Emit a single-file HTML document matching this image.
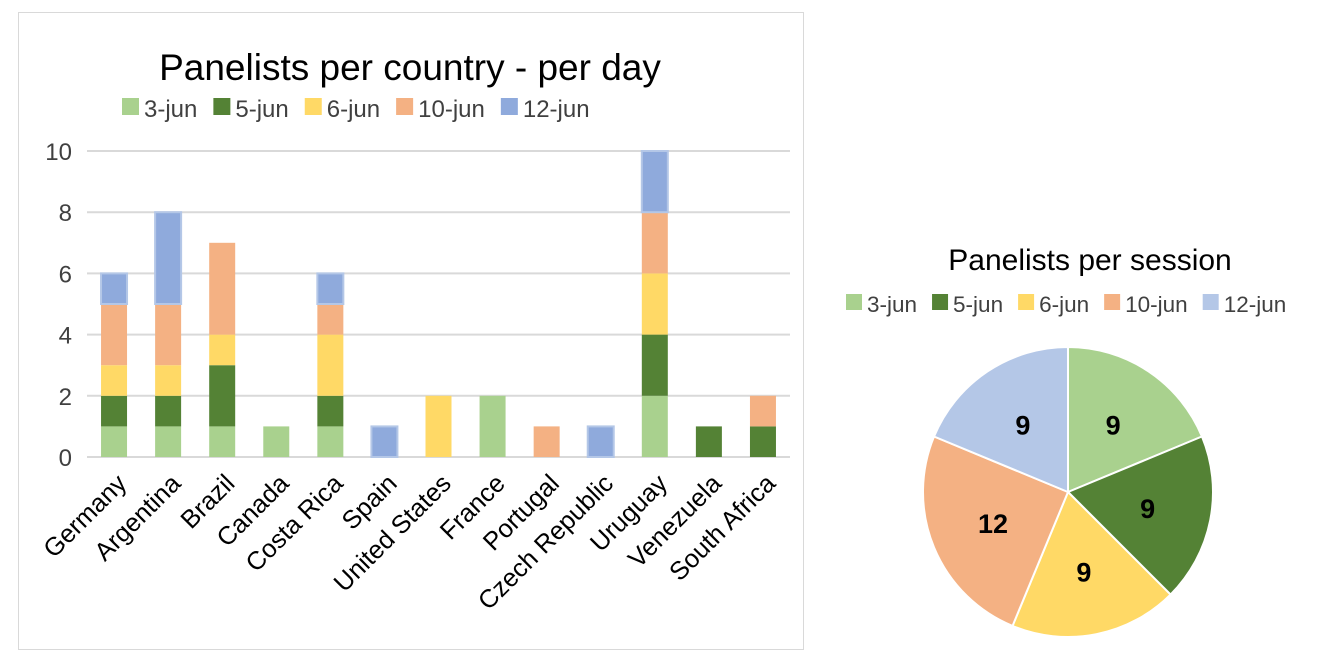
<!DOCTYPE html>
<html><head><meta charset="utf-8"><style>
body{margin:0;background:#fff;width:1335px;height:661px;overflow:hidden;font-family:"Liberation Sans",sans-serif}
svg text{font-family:"Liberation Sans",sans-serif}
</style></head><body>
<svg id="c" width="1335" height="661" xmlns="http://www.w3.org/2000/svg">
<rect x="18.5" y="12.5" width="785" height="637" fill="#fff" stroke="#d9d9d9"/>
<text x="410" y="80" font-size="37" text-anchor="middle" fill="#000">Panelists per country - per day</text>
<text x="1090" y="270" font-size="30" text-anchor="middle" fill="#000">Panelists per session</text>
<g id="bars"></g>
<g id="pie"></g>
</svg>
<script>
const categories=["Germany","Argentina","Brazil","Canada","Costa Rica","Spain","United States","France","Portugal","Czech Republic","Uruguay","Venezuela","South Africa"];
const seriesNames=["3-jun","5-jun","6-jun","10-jun","12-jun"];
const s3jun=[1,1,1,1,1,0,0,2,0,0,2,0,0];
const s5jun=[1,1,2,0,1,0,0,0,0,0,2,1,1];
const s6jun=[1,1,1,0,2,0,2,0,0,0,2,0,0];
const s10jun=[2,2,3,0,1,0,0,0,1,0,2,0,1];
const s12jun=[1,3,0,0,1,1,0,0,0,1,2,0,0];
const pieValues=[9,9,9,12,9];
const yTicks=[0,2,4,6,8,10];
const barColors=["#a9d18e","#548235","#ffd966","#f4b183","#8faadc"];
const pieColors=["#a9d18e","#548235","#ffd966","#f4b183","#b4c7e7"];
const NS="http://www.w3.org/2000/svg";
const bars=document.getElementById('bars');
const pie=document.getElementById('pie');
function mk(tag,attrs,parent,txt){const e=document.createElementNS(NS,tag);for(const k in attrs)e.setAttribute(k,attrs[k]);if(txt!==undefined)e.textContent=txt;parent.appendChild(e);return e;}
const X0=87,X1=790,Y0=457,Y1=151,YMAX=10;
const y=v=>Y0-(v/YMAX)*(Y0-Y1);
const band=(X1-X0)/categories.length;
const xc=i=>X0+band*(i+0.5);
yTicks.forEach(t=>{
  const l=mk('line',{x1:X0,x2:X1,y1:y(t),y2:y(t),stroke:'#d9d9d9','stroke-width':2},bars);
  
  
  const tx=mk('text',{x:72,y:y(t)+9,'font-size':24,'text-anchor':'end',fill:'#404040'},bars,String(t));
  
  
});
const series=[s3jun,s5jun,s6jun,s10jun,s12jun];
const bw=26;
categories.forEach((c,i)=>{
  let acc=0;
  series.forEach((s,k)=>{
    const v=s[i];if(!v)return;
    const r=mk('rect',{x:xc(i)-bw/2,y:y(acc+v),width:bw,height:y(acc)-y(acc+v),fill:barColors[k]},bars);
    if(k===4){r.setAttribute('stroke','#b4c7e7');r.setAttribute('stroke-width','2');}
    
    
    acc+=v;
  });
  const t=mk('text',{x:0,y:0,'font-size':25.5,'text-anchor':'end',fill:'#000',transform:`translate(${xc(i)+14},${Y0+28}) rotate(-45)`},bars,c);
  
  
});
let lx=122;
seriesNames.forEach((n,k)=>{
  const g=mk('g',{},bars);
  
  
  mk('rect',{x:lx,y:98,width:17,height:17,fill:barColors[k]},g);
  const t=mk('text',{x:lx+22,y:117,'font-size':24,fill:'#404040'},g,n);
  lx+=22+t.getComputedTextLength()+16;
});
const cx=1068,cy=492,R=145;
const tot=pieValues.reduce((a,b)=>a+b,0);
let a0=0;
pieValues.forEach((v,k)=>{
  const a1=a0+v/tot*2*Math.PI;
  const p=(a)=>[cx+R*Math.sin(a),cy-R*Math.cos(a)];
  const [x0,y0]=p(a0),[x1,y1]=p(a1);
  const large=(a1-a0)>Math.PI?1:0;
  const s=mk('path',{d:`M${cx},${cy}L${x0},${y0}A${R},${R} 0 ${large} 1 ${x1},${y1}Z`,fill:pieColors[k],stroke:'#fff','stroke-width':2},pie);
  
  
  const am=(a0+a1)/2;
  const t=mk('text',{x:cx+R*0.56*Math.sin(am),y:cy-R*0.56*Math.cos(am)+10,'font-size':27,'font-weight':'bold','text-anchor':'middle',fill:'#000'},pie,String(v));
  
  
  a0=a1;
});
let px=846;
seriesNames.forEach((n,k)=>{
  const g=mk('g',{},pie);
  
  
  mk('rect',{x:px,y:294,width:16,height:16,fill:pieColors[k]},g);
  const t=mk('text',{x:px+21,y:312,'font-size':22.5,fill:'#404040'},g,n);
  px+=21+t.getComputedTextLength()+15;
});
</script>
</body></html>
